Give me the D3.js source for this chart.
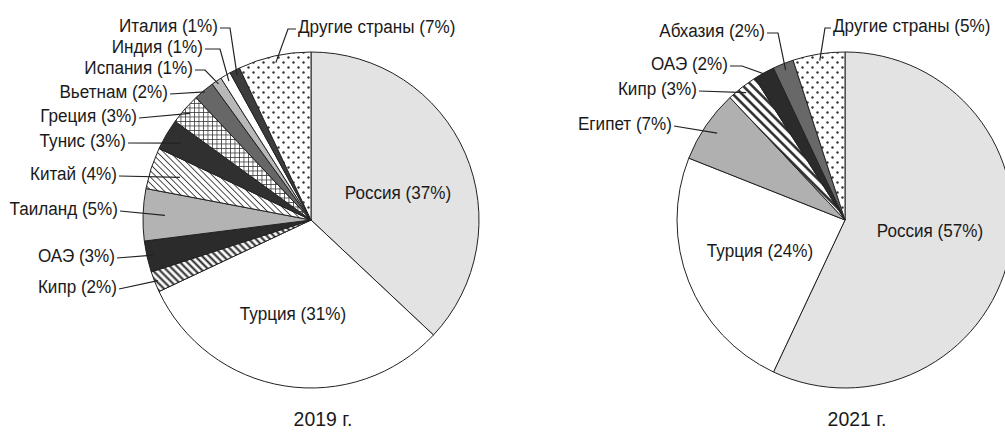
<!DOCTYPE html>
<html>
<head>
<meta charset="utf-8">
<script src="https://cdn.jsdelivr.net/npm/d3@7"></script>
<style>
  body { margin: 0; background: #fff; }
  text { font-family: "Liberation Sans", Arial, sans-serif; fill: #1a1a1a; }
</style>
</head>
<body>
<svg id="chart"></svg>
<script>
// 2019
var countries2019 = ["Россия", "Турция", "Кипр", "ОАЭ", "Таиланд", "Китай", "Тунис",
    "Греция", "Вьетнам", "Испания", "Индия", "Италия", "Другие страны"];
var shares2019 = [37, 31, 2, 3, 5, 4, 3, 3, 2, 1, 1, 1, 7];

// 2021
var countries2021 = ["Россия", "Турция", "Египет", "Кипр", "ОАЭ", "Абхазия", "Другие страны"];
var shares2021 = [57, 24, 7, 3, 2, 2, 5];

var years = ["2019 г.", "2021 г."];

// fills per slice
var fills2019 = ["#e3e3e3", "#fff", "url(#stripeThick)", "#2b2b2b", "#b3b3b3", "url(#stripeThin)",
    "#303030", "url(#grid)", "#676767", "#b8b8b8", "#fff", "#3c3c3c", "url(#dots)"];
var fills2021 = ["#e3e3e3", "#fff", "#b0b0b0", "url(#stripeWide)", "#2b2b2b", "#686868", "url(#dots)"];

// label layout: [x, y, anchor, elbow, radius fraction]  (inner labels have no leader)
var layout2019 = [
    [398, 199, "middle"], [293, 320, "middle"],
    [117, 293, "end", 0, 0.98], [115, 262, "end", 0, 0.96], [118, 215, "end", 0, 0.87],
    [117, 180, "end", 0, 0.82], [126, 147, "end", 0, 0.9], [137, 122, "end", 0, 0.96],
    [168, 98, "end", 0, 0.99], [193, 74, "end", 10, 0.98], [203, 53, "end", 15, 0.96],
    [218, 32, "end", 10, 0.97], [298, 33, "start", 8, 0.96]
];
var layout2021 = [
    [930, 237, "middle"], [760, 257, "middle"],
    [672, 130, "end", 0, 0.92], [697, 95, "end", 0, 0.96], [728, 70, "end", 12, 0.99],
    [765, 37, "end", 11, 0.96], [833, 32, "start", 6, 0.96]
];

var width = 1005, height = 432, radius = 168;

var svg = d3.select("#chart")
    .attr("width", width)
    .attr("height", height);

// patterns
var defs = svg.append("defs");

function stripes(id, size, w) {
    var p = defs.append("pattern")
        .attr("id", id)
        .attr("patternUnits", "userSpaceOnUse")
        .attr("width", size).attr("height", size)
        .attr("patternTransform", "rotate(-45)");
    p.append("rect").attr("width", size).attr("height", size).attr("fill", "#fff");
    p.append("line")
        .attr("x1", size / 2).attr("x2", size / 2)
        .attr("y1", 0).attr("y2", size)
        .attr("stroke", "#222").attr("stroke-width", w);
}
stripes("stripeThick", 5, 2);
stripes("stripeThin", 4.5, 0.8);
stripes("stripeWide", 6.5, 2.4);

var grid = defs.append("pattern")
    .attr("id", "grid")
    .attr("patternUnits", "userSpaceOnUse")
    .attr("width", 4.5).attr("height", 4.5);
grid.append("rect").attr("width", 4.5).attr("height", 4.5).attr("fill", "#fff");
grid.append("path")
    .attr("d", "M0,0.4H4.5M0.4,0V4.5")
    .attr("stroke", "#333").attr("stroke-width", 0.8);

var dots = defs.append("pattern")
    .attr("id", "dots")
    .attr("patternUnits", "userSpaceOnUse")
    .attr("width", 10).attr("height", 10);
dots.append("rect").attr("width", 10).attr("height", 10).attr("fill", "#fff");
dots.append("circle").attr("cx", 2.5).attr("cy", 2.5).attr("r", 1.2).attr("fill", "#333");
dots.append("circle").attr("cx", 7.5).attr("cy", 7.5).attr("r", 1.2).attr("fill", "#333");

var pie = d3.pie().sort(null).value(function(d) { return d.value; });
var arc = d3.arc().innerRadius(0).outerRadius(radius);

// the source uses a narrow face, so squeeze the text a bit
function label(x, y, anchor, size, sx, str) {
    svg.append("text")
        .attr("transform", "translate(" + x + "," + y + ") scale(" + sx + ",1)")
        .attr("text-anchor", anchor)
        .style("font-size", size + "px")
        .text(str);
}

function drawPie(cx, cy, names, values, fills, layout, title) {
    var rows = names.map(function(n, i) { return {name: n, value: values[i]}; });
    var arcs = pie(rows);

    var g = svg.append("g").attr("transform", "translate(" + cx + "," + cy + ")");

    g.selectAll("path")
        .data(arcs)
        .enter().append("path")
        .attr("d", arc)
        .attr("fill", function(d, i) { return fills[i]; })
        .attr("stroke", "#222")
        .attr("stroke-width", 1)
        .attr("stroke-linejoin", "round");

    arcs.forEach(function(d, i) {
        var L = layout[i];
        label(L[0], L[1], L[2], 19, 0.9, d.data.name + " (" + d.data.value + "%)");
        if (L[2] === "middle") return;

        var mid = (d.startAngle + d.endAngle) / 2;
        var r = radius * L[4];
        var ex = cx + r * Math.sin(mid), ey = cy - r * Math.cos(mid);
        var dir = L[2] === "end" ? 1 : -1;
        var sx = L[0] + dir * 2, sy = L[1] - 4;
        var pts = [[sx, sy]];
        if (L[3]) pts.push([sx + dir * L[3], sy]);
        pts.push([ex, ey]);
        svg.append("path")
            .attr("d", d3.line()(pts))
            .attr("fill", "none")
            .attr("stroke", "#222")
            .attr("stroke-width", 1.2);
    });

    label(cx + 12, 426, "middle", 20.5, 0.95, title);
}

drawPie(311, 220, countries2019, shares2019, fills2019, layout2019, years[0]);
drawPie(845, 220, countries2021, shares2021, fills2021, layout2021, years[1]);
</script>
</body>
</html>
